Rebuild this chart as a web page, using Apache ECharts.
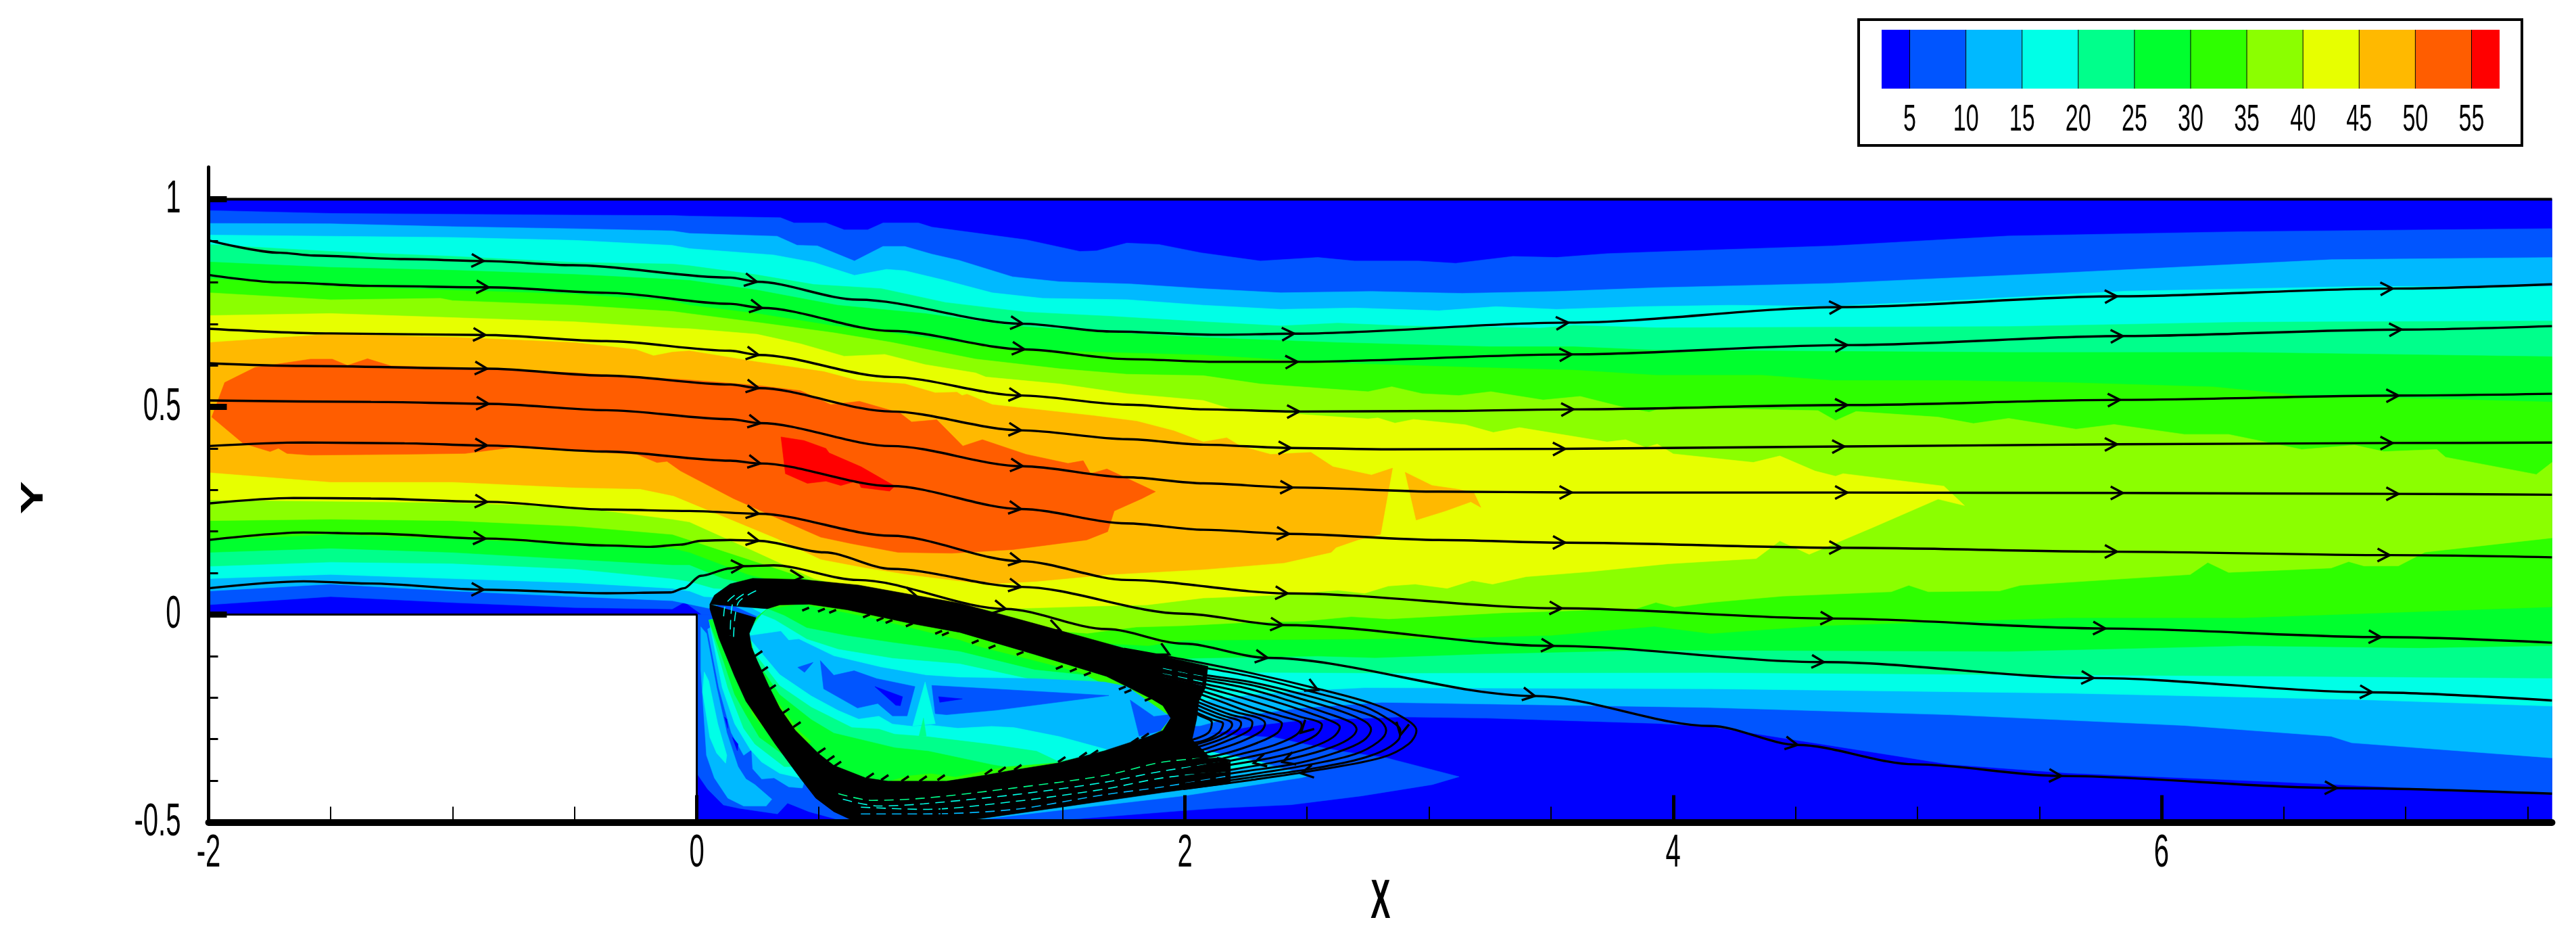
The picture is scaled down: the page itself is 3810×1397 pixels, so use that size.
<!DOCTYPE html>
<html><head><meta charset="utf-8">
<style>html,body{margin:0;padding:0;background:#fff}#c{width:3810px;height:1397px}</style>
<script src="https://cdn.jsdelivr.net/npm/echarts@6/dist/echarts.min.js"></script>
</head><body><div id="c"></div>
<script>
// ---- tick labels and contour levels
const xTickValues=[-2,0,2,4,6];
const yTickValues=[-0.5,0,0.5,1];
const legendTickValues=[5,10,15,20,25,30,35,40,45,50,55];
const legendEdges=[2.5,5,10,15,20,25,30,35,40,45,50,55,57.5];
const bandColors=['#0000ff','#0055ff','#00b9ff','#00ffe7','#00ff8b','#00ff2e','#2eff00','#8bff00','#e7ff00','#ffb900','#ff5d00','#ff0000'];
const xTitle='X',yTitle='Y';

// ---- upper edges of contour levels (x, y)
const u5=[[-2,.973],[-1.5,.966],[-1,.964],[-.5,.962],[-.1,.961],[-.03,.9596],[.343,.9556],[.398,.943],[.529,.943],[.604,.9264],[.7,.9264],[.763,.943],[.908,.943],[.963,.933],[1.156,.9177],[1.349,.9025],[1.569,.8745],[1.638,.8759],[1.762,.8945],[1.893,.8912],[2.065,.8712],[2.309,.8513],[2.544,.8599],[2.695,.8513],[2.957,.8513],[3.109,.8459],[3.343,.8625],[3.522,.8599],[3.729,.8692],[3.932,.8733],[4.653,.8878],[5.374,.9117],[6.335,.9221],[7.6,.9294]];
const u10=[[-2,.942],[-1.5,.941],[-1,.934],[-.5,.929],[-.1,.924],[-.03,.9177],[.329,.911],[.411,.8892],[.494,.8878],[.646,.8513],[.763,.8865],[.852,.8865],[.963,.8679],[1.073,.8532],[1.293,.8134],[1.486,.8014],[1.776,.7961],[2.075,.7848],[2.392,.7748],[2.764,.7781],[3.136,.7735],[3.522,.7781],[3.932,.7871],[4.653,.7975],[5.614,.8234],[6.695,.8546],[7.6,.8598]];
const u15=[[-2,.914],[-1.5,.911],[-1,.908],[-.5,.901],[-.1,.889],[-.03,.8812],[.315,.8659],[.48,.848],[.646,.8167],[.777,.8313],[.852,.828],[1.018,.8047],[1.21,.7748],[1.417,.7615],[1.762,.7582],[2.075,.7449],[2.392,.7349],[2.695,.7382],[3.04,.7316],[3.274,.7415],[3.522,.7349],[3.867,.7415],[4.236,.7449],[4.653,.7424],[5.133,.7559],[5.854,.7788],[6.815,.7902],[7.6,.7902]];
const u20=[[-2,.891],[-1.5,.8745],[-1,.8626],[-.5,.848],[-.1,.844],[-.03,.8399],[.246,.818],[.48,.7947],[.756,.7848],[1.018,.7515],[1.349,.7283],[1.693,.7183],[2.075,.705],[2.392,.695],[2.626,.7017],[2.902,.695],[3.453,.6897],[3.591,.6963],[3.932,.6905],[5.374,.6936],[6.335,.704],[7.6,.7071]];
const u25=[[-2,.849],[-1.5,.836],[-1,.829],[-.5,.819],[-.1,.807],[-.03,.8047],[.246,.7814],[.577,.7449],[.935,.7249],[1.293,.695],[1.624,.6817],[2.075,.667],[2.626,.655],[3.246,.645],[3.591,.645],[3.932,.6365],[5.374,.6313],[6.335,.6313],[7.6,.6209]];
const u30=[[-2,.809],[-1.5,.791],[-1,.781],[-.5,.7715],[-.1,.755],[-.03,.7449],[.246,.7249],[.563,.695],[.797,.6784],[1.073,.6551],[1.349,.6385],[1.624,.6319],[2.075,.625],[2.626,.6053],[3.177,.5953],[3.591,.5887],[3.932,.5763],[4.364,.5763],[4.653,.5638],[5.133,.5638],[5.614,.5586],[6.214,.5482],[6.575,.5274],[7.6,.5118]];
const u35=[[-2,.775],[-1.5,.758],[-1.05,.7615],[-1,.756],[-.5,.745],[-.1,.73],[-.03,.7246],[.273,.7017],[.563,.6784],[.797,.6555],[1.142,.6153],[1.486,.592],[1.762,.5787],[2.075,.5753],[2.309,.5553],[2.75,.5367],[2.847,.5487],[2.971,.532],[3.122,.5275],[3.253,.5367],[3.467,.5168],[3.619,.5254],[3.798,.4989],[3.901,.4876],[3.963,.4989],[4.593,.4911],[4.665,.4672],[4.749,.489],[5.085,.4755],[5.23,.46],[5.374,.4724],[5.65,.4464],[5.806,.4578],[6.094,.4339],[6.275,.4339],[6.575,.3976],[6.791,.408],[6.911,.3924],[7.128,.3976],[7.164,.3789],[7.536,.3374],[7.6,.3664]];

// ---- lower edges of contour levels (x, y)
const l5=[[-2,.0235],[-1.5,.0434],[-1,.0288],[-.5,.0168],[-.1,.0135],[-.05,.0302],[.02,0],[.1,0],[.7,-.1],[1.9,-.29],[2.13,-.2845],[2.31,-.2656],[2.475,-.2547],[2.889,-.2465],[3.234,-.2493],[3.932,-.262],[4.154,-.27],[5.133,-.3606],[5.614,-.3814],[6.455,-.4022],[7.6,-.4333]];
const l10=[[-2,.0567],[-1.5,.0733],[-1,.0567],[-.5,.0434],[-.1,.0334],[-.03,.025],[.05,.015],[.12,.03],[.6,-.1],[1.8,-.27],[2.06,-.268],[2.2,-.2465],[2.475,-.2248],[2.806,-.2113],[4.154,-.2238],[5.133,-.2412],[6.094,-.2671],[6.695,-.2931],[6.779,-.3087],[7.6,-.3451]];
const l15=[[-2,.0866],[-1.5,.0966],[-1,.0866],[-.5,.0767],[-.1,.0633],[-.03,.0567],[.03,.0434],[.15,.04],[.5,-.07],[1.5,-.2],[1.993,-.214],[2.27,-.1925],[2.544,-.1814],[2.737,-.176],[4.154,-.1787],[5.614,-.1892],[6.815,-.2048],[7.6,-.2204]];
const l20=[[-2,.1165],[-1.5,.1265],[-1,.1232],[-.5,.1099],[-.1,.0866],[-.03,.08],[.07,.0633],[.2,.06],[1.2,-.07],[2.255,-.139],[2.82,-.1407],[4.154,-.1396],[5.374,-.1446],[6.335,-.1477],[7.6,-.153]];
const l25=[[-2,.1498],[-1.5,.1598],[-1,.1498],[-.5,.1331],[-.1,.1199],[-.03,.1199],[.11,.0866],[.25,.07],[1,-.06],[1.993,-.1054],[2.544,-.0999],[2.779,-.1037],[3.233,-.0945],[3.922,-.0853],[5.374,-.0885],[6.335,-.075],[7.056,-.08],[7.6,-.075]];
const l30=[[-2,.1797],[-1.5,.193],[-1,.183],[-.5,.1697],[-.1,.1598],[-.03,.1498],[.21,.0966],[.4,.07],[1,-.05],[1.85,-.075],[1.993,-.062],[2.682,-.059],[3.095,-.0565],[3.5,-.05],[3.922,-.0283],[4.154,-.0457],[4.6,-.027],[5.614,-.0075],[6.335,-.0075],[7.6,.0185]];
const l35=[[-2,.2262],[-1.5,.2296],[-1,.2262],[-.5,.2129],[-.1,.193],[-.03,.1797],[.315,.1132],[.45,.0866],[1,-.02],[1.6,-.045],[1.8,-.03],[1.993,-.0267],[2.27,-.0185],[2.489,-.0158],[2.682,-.005],[2.834,-.0104],[3.302,.0043],[3.847,.014],[3.929,.0292],[4.005,.0184],[4.154,.0292],[4.449,.0445],[4.893,.0549],[4.965,.0704],[5.045,.0549],[5.337,.0569],[5.422,.0704],[6.118,.0964],[6.19,.1255],[6.275,.1016],[6.695,.112],[6.767,.1275],[6.83,.117],[6.971,.1172],[7.08,.1504],[7.6,.1847]];

// ---- closed contour outlines (x, y)
const area40=[[-2,.72],[-1.5,.725],[-1,.715],[-.5,.705],[-.1,.69],[-.03,.6884],[.246,.675],[.425,.652],[.604,.622],[.77,.6265],[.935,.602],[1.142,.582],[1.184,.572],[1.487,.5554],[1.762,.532],[2.075,.5155],[2.185,.4955],[2.475,.482],[2.75,.471],[2.79,.4735],[2.86,.461],[2.936,.47],[3.15,.457],[3.263,.4384],[3.37,.4503],[3.729,.4157],[3.805,.421],[3.887,.4025],[3.935,.4105],[4,.387],[4.328,.3664],[4.437,.382],[4.581,.3457],[4.665,.3332],[4.696,.3394],[5.109,.3093],[5.193,.2626],[5.085,.278],[4.821,.2106],[4.557,.1452],[4.437,.1774],[4.34,.1348],[3.98,.1223],[3.66,.1033],[3.398,.0913],[3.26,.0733],[3.177,.0819],[3.074,.0633],[2.943,.0733],[2.833,.0687],[2.736,.0514],[2.626,.0587],[2.378,.0467],[2.075,.04],[1.845,.0234],[1.6,.02],[1.2,.0125],[.9,.03],[.48,.0866],[.246,.15],[-.03,.223],[-.1,.2296],[-.5,.2595],[-1,.2695],[-1.5,.2728],[-2,.2761]];
const area45=[[-2,.655],[-1.5,.675],[-1,.668],[-.5,.655],[-.25,.638],[-.177,.6232],[-.1,.632],[-.03,.635],[.246,.6086],[.52,.585],[.66,.5634],[.853,.5554],[.977,.534],[1.066,.5355],[1.087,.5275],[1.107,.5308],[1.211,.5055],[1.624,.479],[1.803,.4656],[1.955,.4424],[2.075,.4157],[2.171,.4257],[2.227,.4058],[2.351,.3858],[2.516,.3905],[2.606,.356],[2.764,.336],[2.85,.3526],[2.801,.193],[2.709,.18],[2.619,.1618],[2.599,.15],[2.406,.1245],[2.075,.1086],[1.693,.0966],[1.39,.08],[1.183,.0733],[.866,.0966],[.687,.1133],[.508,.1331],[.329,.183],[.137,.2296],[-.095,.286],[-.232,.3027],[-.5,.306],[-1,.3193],[-1.5,.3193],[-2,.3426]];
const island45=[[2.902,.3426],[3.012,.3108],[3.122,.3014],[3.184,.2928],[3.212,.2582],[3.171,.2715],[3.067,.2495],[2.947,.2276]];
const area50=[[-1.987,.4756],[-1.934,.5587],[-1.81,.595],[-1.583,.615],[-1.493,.615],[-1.431,.6],[-1.349,.616],[-1.252,.5986],[-.922,.594],[-.498,.582],[-.03,.565],[.246,.552],[.425,.539],[.549,.5055],[.666,.5135],[.832,.4855],[.88,.4637],[.983,.469],[1.09,.4058],[1.17,.4211],[1.349,.3858],[1.521,.364],[1.583,.3705],[1.613,.3393],[1.68,.3506],[1.879,.296],[1.824,.2795],[1.71,.2495],[1.683,.1997],[1.597,.1797],[1.294,.1565],[1.045,.1478],[.825,.1498],[.632,.171],[.508,.1864],[.315,.2362],[.15,.2795],[-.03,.3346],[-.067,.346],[-.122,.369],[-.163,.366],[-.246,.386],[-.756,.4025],[-.949,.388],[-1.197,.386],[-1.583,.384],[-1.679,.388],[-1.714,.4005],[-1.748,.3925],[-1.859,.4125]];
const area55=[[.345,.4277],[.439,.419],[.529,.4],[.542,.3892],[.673,.3559],[.811,.3094],[.79,.2974],[.673,.306],[.66,.3226],[.59,.3107],[.529,.3213],[.453,.316],[.363,.3393]];

// ---- wake below the recirculation tail
const wake5=[[2.172,-.29],[2.365,-.2954],[2.489,-.3117],[2.655,-.3307],[2.82,-.3443],[3.123,-.3904],[3.013,-.4094],[2.723,-.4367],[2.434,-.4579],[2.131,-.4664],[1.993,-.472],[1.385,-.5],[.9,-.5],[.9,-.3],[2,-.28]];
const wake10=[[2.514,-.3877],[2.475,-.393],[2.234,-.4148],[1.993,-.4366],[1.063,-.5],[.85,-.5],[.9,-.35],[1.9,-.3],[1.993,-.32],[2.2,-.34]];
const wake15=[[2.35,-.36],[2.1,-.33],[1.9,-.31],[1.2,-.34],[.8,-.4],[1,-.47],[1.6,-.42],[2,-.39]];

// ---- jet along the step face
const jet5=[[0,0],[0,-.3823],[.0443,-.4203],[.1089,-.4584],[.1735,-.4665],[.3305,-.48],[.372,-.454],[.4598,-.4746],[.6168,-.5],[.925,-.5],[.466,-.2573],[.121,0]];
const jetLobe10=[[.0166,-.0295],[.0166,-.1326],[.0397,-.3389],[.072,-.3932],[.1274,-.4421],[.192,-.4611],[.2843,-.4611],[.3074,-.4448],[.2382,-.4095],[.2012,-.3959],[.1689,-.3661],[.1228,-.2846],[.0812,-.176],[.0397,-.0457]];
const jetLobe15=[[.0304,-.138],[.024,-.1869],[.0535,-.2955],[.0812,-.3335],[.1181,-.3579],[.1228,-.3389],[.0858,-.2629],[.0489,-.1598]];
const jet10=[[.0443,-.0349],[.0904,-.176],[.1412,-.2846],[.192,-.3389],[.2243,-.3253],[.229,-.3715],[.2659,-.3959],[.3167,-.3932],[.3767,-.4149],[.4321,-.4176],[.5,-.3],[.15,0]];
const jet15=[[.05,-.0132],[.1043,-.176],[.1551,-.2629],[.2197,-.3253],[.2659,-.3552],[.3398,-.3823],[.4229,-.3932],[.5,-.3],[.15,0]];
const jet20=[[.0535,-.024],[.127,-.176],[.192,-.2738],[.2382,-.3118],[.3582,-.3661],[.4044,-.3661],[.45,-.3],[.15,0]];
const jet25=[[.0489,-.0132],[.0627,-.0349],[.1089,-.1109],[.1551,-.1923],[.2012,-.2412],[.2566,-.2955],[.3582,-.3389],[.42,-.25],[.15,0]];
const jet30=[[.2105,-.214],[.2797,-.2683],[.2751,-.2738],[.229,-.2412]];
const jetSpeckA=[[.1135,-.2465],[.1228,-.2521],[.1274,-.2738]];
const jetSpeckB=[[.1458,-.2955],[.1689,-.3118],[.1662,-.328]];

// ---- inside of the recirculation bubble
const bubbleHole=[[.289,.014],[.3398,.0232],[.4598,.0248],[.6168,.0113],[.8753,-.0213],[1.078,-.043],[1.3842,-.096],[1.6786,-.1488],[1.7617,-.1732],[1.8633,-.2031],[1.9094,-.2194],[1.941,-.2493],[1.9094,-.2791],[1.854,-.2927],[1.6694,-.328],[1.4755,-.3578],[1.3,-.3741],[1.1708,-.3877],[1.023,-.4012],[.783,-.4012],[.6906,-.3931],[.5613,-.3632],[.4967,-.3335],[.4044,-.2792],[.3398,-.2249],[.2936,-.1706],[.2474,-.1109],[.2243,-.0783],[.2151,-.0457],[.2428,-.0077]];
const bubbleOuter=[[.0535,.0248],[.072,.0465],[.1366,.0737],[.229,.0873],[.432,.0845],[.663,.071],[.894,.0465],[1.078,.0275],[1.3842,-.0216],[1.7746,-.085],[1.909,-.1],[2.094,-.1244],[2.084,-.176],[2.057,-.2085],[2.0475,-.252],[2.029,-.3008],[2.094,-.3388],[2.186,-.3497],[2.186,-.4067],[1.909,-.4284],[1.494,-.4637],[1.06,-.5],[.6537,-.5],[.5614,-.4746],[.4875,-.442],[.4229,-.3932],[.3213,-.3118],[.2012,-.2086],[.155,-.1489],[.0904,-.0566],[.0535,.014]];
const in25=[[.2428,-.0077],[.289,.014],[.432,.0248],[.709,-.0077],[.8937,-.0349],[1.078,-.062],[1.1545,-.0774],[1.3842,-.1115],[1.5679,-.1395],[1.95,-.25],[1.6,-.345],[1.263,-.366],[1.06,-.3904],[.9584,-.3822],[.866,-.3877],[.783,-.4012],[.6,-.39],[.5613,-.3632],[.4967,-.34],[.2936,-.18],[.2151,-.05]];
const in30=[[.4044,-.2738],[.469,-.3063],[.4505,-.31]];
const in20=[[.2151,-.03],[.289,.014],[.358,-.0023],[.4505,-.0322],[.6168,-.0512],[.8014,-.0675],[1.078,-.0892],[1.3842,-.1333],[1.5909,-.1457],[1.95,-.25],[1.6,-.34],[1.48,-.356],[1.263,-.366],[1.2077,-.3605],[.9492,-.328],[.8106,-.3198],[.5613,-.2845],[.469,-.252],[.3398,-.1923],[.2474,-.1136],[.2151,-.05]];
const in15=[[.2151,-.04],[.2659,0],[.3213,-.0132],[.4505,-.0593],[.5798,-.0838],[.8014,-.1055],[1.078,-.119],[1.3842,-.1581],[1.6139,-.1705],[1.95,-.25],[1.7,-.33],[1.48,-.3524],[1.392,-.328],[1.2077,-.3117],[.94,-.2927],[.8106,-.2872],[.746,-.2748],[.6352,-.271],[.469,-.2222],[.3398,-.1706],[.2336,-.0892]];
const in10=[[.2151,-.0512],[.3444,-.0403],[.3767,-.062],[.4182,-.0593],[.5614,-.1],[.7553,-.1272],[.94,-.1462],[1.078,-.1516],[1.392,-.1542],[1.6694,-.1624],[1.7617,-.1732],[1.95,-.25],[1.854,-.3],[1.6879,-.3252],[1.4847,-.2927],[1.3,-.271],[1.2077,-.2682],[1.0692,-.2726],[.9584,-.2655],[.8845,-.2682],[.8014,-.2628],[.746,-.2438],[.6629,-.2509],[.5798,-.2302],[.469,-.195],[.3398,-.1435],[.2197,-.0593]];
const in5a=[[.506,-.1109],[.5614,-.1462],[.6445,-.1353],[.7368,-.1543],[.8937,-.1733],[.8615,-.2439],[.8014,-.2439],[.7414,-.214],[.6583,-.2249],[.5198,-.1788]];
const in5b=[[.963,-.1706],[1.6879,-.195],[1.226,-.2302],[1.023,-.2411],[.9768,-.2384]];
const in5c=[[1.7756,-.2058],[1.8725,-.2454],[1.95,-.24],[1.9,-.28],[1.8125,-.2927]];
const in5d=[[.4136,-.1272],[.4764,-.1152],[.4413,-.1391]];
const in0a=[[.7295,-.1733],[.843,-.1978],[.8337,-.2195],[.8153,-.2184]];
const in0b=[[.9907,-.1977],[1.0877,-.2031],[.9953,-.2112]];
const spikeOuter=[[.8845,-.2682],[.9353,-.1624],[.977,-.2628]];
const spikeInner=[[.9104,-.2927],[.9288,-.2492],[.9399,-.2927]];
const stepBlock=[[-2,0],[0,0],[0,-.5],[-2,-.5]];
const domain=[[-2,1],[7.6,1],[7.6,-.5],[-2,-.5]];

// ---- streamlines through the main flow
const s1=[[-2,.9011],[-1.707,.8712],[-1.569,.8646],[-1.197,.8559],[-.873,.8513],[-.508,.8413],[.137,.8114],[.246,.8014],[.66,.7582],[1.335,.7003],[1.693,.6817],[2.131,.6737],[2.447,.6764],[3.57,.703],[4.689,.7403],[5.818,.7663],[6.947,.785],[7.6,.7954]];
const s2=[[-2,.818],[-1.707,.8],[-1.335,.7914],[-.853,.788],[-.37,.7748],[.137,.7482],[.267,.7382],[.797,.683],[1.342,.6385],[1.762,.6152],[2.131,.6086],[2.461,.6086],[3.584,.6265],[4.713,.6489],[5.842,.6707],[6.983,.6863],[7.6,.6946]];
const s3=[[-2,.6883],[-1.5,.677],[-.866,.6731],[-.37,.6584],[.137,.6352],[.253,.6252],[.797,.572],[1.328,.5275],[1.762,.5055],[2.075,.4942],[2.468,.4889],[3.04,.4902],[3.591,.4942],[4.713,.5045],[5.83,.517],[6.971,.5274],[7.6,.5316]];
const s4=[[-2,.6052],[-1.611,.5986],[-.859,.592],[-.37,.5753],[.137,.554],[.253,.5454],[.797,.4889],[1.328,.4437],[1.762,.4224],[2.075,.4091],[2.433,.4011],[2.84,.3978],[3.557,.3991],[4.701,.4048],[5.818,.41],[6.947,.4131],[7.6,.4142]];
const s5=[[-2,.5155],[-1.335,.5121],[-.853,.5075],[-.37,.4922],[.137,.4703],[.26,.4609],[.797,.4058],[1.335,.3572],[1.762,.3306],[2.075,.316],[2.44,.306],[3.04,.296],[3.584,.294],[4.713,.2938],[5.842,.2927],[6.971,.2906],[7.6,.2885]];
const s6=[[-2,.4058],[-1.611,.4144],[-1.197,.4124],[-.859,.4071],[-.37,.3925],[.137,.3705],[.26,.3639],[.797,.3094],[1.328,.2542],[1.762,.2196],[2.075,.2043],[2.426,.1943],[3.04,.1797],[3.557,.1731],[4.689,.1608],[5.818,.1514],[6.935,.1431],[7.6,.1379]];
const s7=[[-2,.2675],[-1.652,.2808],[-1.335,.2794],[-.859,.2714],[-.37,.2528],[-.03,.2495],[.253,.2428],[.797,.1897],[1.328,.1285],[1.762,.0833],[2.42,.051],[3.543,.015],[4.653,-.0096],[5.77,-.0335],[6.899,-.0542],[7.6,-.0677]];
const s8=[[-2,.1797],[-1.611,.1977],[-1.335,.195],[-.866,.183],[-.37,.1664],[-.191,.1631],[-.067,.1684],[.016,.1777],[.137,.1797],[.253,.1777],[.522,.1498],[.797,.11],[1.328,.0667],[1.993,.0021],[2.4,-.0251],[3.509,-.0755],[4.617,-.1145],[5.722,-.1529],[6.863,-.1872],[7.6,-.2069]];
const s9=[[-2,.0633],[-1.611,.08],[-1.335,.0747],[-.873,.06],[-.37,.0514],[-.108,.0534],[-.053,.0633],[.016,.0933],[.137,.1112],[.19,.1166],[.315,.1186],[.66,.0833],[1.266,.0135],[1.68,-.035],[1.993,-.0701],[2.338,-.1043],[3.433,-.196],[4.154,-.2683],[4.509,-.3139],[4.989,-.3606],[5.59,-.3887],[6.719,-.4177],[7.6,-.4313]];
const a1=[-.873,.246,1.335,2.447,3.57,4.689,5.818,6.947];
const a2=[-.853,.267,1.342,2.461,3.584,4.713,5.842,6.983];
const a3=[-.866,.253,1.328,2.468,3.591,4.713,5.83,6.971];
const a4=[-.859,.253,1.328,2.433,3.557,4.701,5.818,6.947];
const a5=[-.853,.26,1.335,2.44,3.584,4.713,5.842,6.971];
const a6=[-.859,.26,1.328,2.426,3.557,4.689,5.818,6.935];
const a7=[-.859,.253,1.328,2.42,3.543,4.653,5.77,6.899];
const a8=[-.866,.253,1.328,2.4,3.509,4.617,5.722,6.863];
const a9=[-.873,.19,1.266,2.338,3.433,4.509,5.59,6.719];

// ---- recirculation streamlines in the tail
const loopA=[[1.75,-.082],[1.993,-.108],[2.269,-.1407],[2.544,-.1787],[2.765,-.214],[2.889,-.2465],[2.948,-.2791],[2.916,-.3117],[2.806,-.3443],[2.544,-.3741],[2.269,-.3985],[1.993,-.4203]];
const loopB=[[1.75,-.09],[1.993,-.119],[2.269,-.1488],[2.544,-.1895],[2.737,-.2221],[2.847,-.2574],[2.882,-.2791],[2.875,-.3008],[2.765,-.3388],[2.544,-.3687],[2.269,-.392],[1.993,-.4148]];
const loopC=[[1.75,-.1],[1.993,-.1369],[2.269,-.1624],[2.517,-.1977],[2.682,-.2275],[2.792,-.252],[2.824,-.2791],[2.792,-.3063],[2.696,-.3361],[2.517,-.3605],[2.269,-.385],[1.993,-.4083]];
const loopD=[[1.75,-.11],[1.993,-.1434],[2.269,-.1695],[2.475,-.2031],[2.641,-.233],[2.737,-.2574],[2.762,-.2764],[2.73,-.3036],[2.627,-.3307],[2.462,-.3578],[2.241,-.3779],[1.993,-.3996]];
const loopE=[[1.75,-.12],[1.993,-.1488],[2.241,-.176],[2.434,-.2086],[2.586,-.2384],[2.682,-.2601],[2.703,-.2764],[2.668,-.3008],[2.572,-.3253],[2.406,-.3508],[2.214,-.3714],[1.993,-.3904]];
const loopF=[[1.75,-.13],[1.993,-.157],[2.214,-.1841],[2.393,-.214],[2.53,-.2411],[2.613,-.2601],[2.634,-.271],[2.606,-.2954],[2.517,-.3198],[2.351,-.3454],[2.172,-.3632],[1.993,-.3823]];
const loopG=[[1.75,-.135],[1.993,-.1624],[2.186,-.1923],[2.351,-.2221],[2.475,-.2465],[2.544,-.2574],[2.561,-.2656],[2.537,-.29],[2.448,-.3144],[2.296,-.3388],[2.131,-.3578],[1.993,-.3725]];
const loopH=[[1.75,-.14],[1.993,-.1705],[2.158,-.2004],[2.296,-.2275],[2.406,-.2465],[2.468,-.2574],[2.478,-.2683],[2.455,-.29],[2.365,-.3144],[2.227,-.3361],[2.089,-.3551],[1.993,-.3649]];
const loopI=[[1.75,-.145],[1.993,-.1787],[2.131,-.2058],[2.255,-.233],[2.351,-.2493],[2.397,-.2628],[2.379,-.2845],[2.296,-.309],[2.172,-.3334],[2.062,-.347],[1.993,-.3551]];
const loopJ=[[1.75,-.15],[1.993,-.1868],[2.103,-.214],[2.214,-.2357],[2.303,-.2493],[2.328,-.2628],[2.31,-.2818],[2.227,-.3063],[2.117,-.328],[1.993,-.3454]];
const loopK=[[1.993,-.195],[2.089,-.2194],[2.186,-.2411],[2.262,-.252],[2.276,-.2601],[2.262,-.2791],[2.186,-.3008],[2.076,-.3253],[1.993,-.3361]];
const loopL=[[1.993,-.2031],[2.076,-.2248],[2.158,-.2438],[2.22,-.2547],[2.23,-.2628],[2.214,-.2791],[2.145,-.3008],[2.048,-.3198],[1.993,-.328]];
const loopM=[[1.993,-.2096],[2.062,-.2303],[2.131,-.2465],[2.186,-.2574],[2.193,-.2656],[2.172,-.2818],[2.11,-.3008],[2.034,-.3144],[1.993,-.3198]];
const loopN=[[1.993,-.2167],[2.048,-.2357],[2.11,-.252],[2.156,-.2628],[2.138,-.2845],[2.076,-.3036],[1.993,-.3117]];
const loopO=[[1.993,-.2221],[2.062,-.2438],[2.11,-.2601],[2.096,-.2845],[2.034,-.3008],[1.993,-.3052]];
const loopArrows=[[.431,.09,.5,.087],[.902,.0435,1,.03],[1.488,-.0371,1.6,-.06],[1.9354,-.096,2,-.115],[2.544,-.1814,2.65,-.21],[2.882,-.29,2.875,-.31],[2.475,-.3823,2.4,-.39],[2.282,-.3578,2.2,-.37],[2.4,-.3551,2.32,-.37],[2.475,-.2845,2.43,-.31]];
const edgeHairsUpper=[[.4598,.0167],[.5244,.014],[.5706,.0113],[.709,.0004],[.7645,-.0077],[.8014,-.0132],[.8845,-.0213],[1.0046,-.0392],[1.0323,-.043],[1.1545,-.0619],[1.2234,-.0743],[1.3383,-.0898],[1.499,-.124],[1.5564,-.1302],[1.6139,-.1395],[1.757,-.1732],[1.78,-.1814],[1.863,-.2004]];
const edgeHairsLower=[[1.48,-.3551],[1.5678,-.3442],[1.614,-.3388],[1.78,-.309],[1.8217,-.2981],[1.3,-.374],[1.2354,-.3795],[1.18,-.385],[.986,-.3985],[.912,-.4012],[.8384,-.4012],[.755,-.3985],[.695,-.3942],[.4967,-.3334],[.5336,-.3524],[.5613,-.366],[.2382,-.1],[.2613,-.138],[.2936,-.1815],[.349,-.2385],[.3952,-.271]];

// ---- coloured gaps seen between the packed streamlines
const gapLow1=[[.5798,-.4311],[.7183,-.4474],[.9307,-.442],[1.3,-.4175],[1.6694,-.3877],[1.9094,-.3551],[2.1768,-.3416]];
const gapLow2=[[.5983,-.4447],[.746,-.461],[.9307,-.4555],[1.3,-.4338],[1.6694,-.404],[1.9094,-.3768],[2.223,-.3497]];
const gapLow3=[[.6721,-.4637],[.9307,-.4691],[1.3,-.4501],[1.6694,-.4202],[1.9094,-.3931],[2.186,-.3769]];
const gapLow4=[[.6721,-.48],[.9307,-.48],[1.3,-.4691],[1.6694,-.4338],[1.9094,-.4148],[2.186,-.3877]];
const gapTop1=[[1.909,-.1298],[2.09,-.15]];
const gapTop2=[[1.909,-.1407],[2.08,-.163]];
const gapTop3=[[1.909,-.1515],[2.07,-.172]];
const gapLeft1=[[.155,.0465],[.118,.0248],[.109,-.0159]];
const gapLeft2=[[.192,.0493],[.146,.0248],[.137,-.0512]];
const gapLeft3=[[.243,.0574],[.169,.0275],[.1505,-.062]];

// ---- assembling
const C=bandColors;
const band=(u,l)=>u.concat(l.slice().reverse());
const fills=[
 [domain,C[0]],[band(u5,l5),C[1]],[band(u10,l10),C[2]],[band(u15,l15),C[3]],[band(u20,l20),C[4]],[band(u25,l25),C[5]],[band(u30,l30),C[6]],[band(u35,l35),C[7]],
 [area40,C[8]],[area45,C[9]],[island45,C[9]],[area50,C[10]],[area55,C[11]],
 [wake5,C[1]],[wake10,C[2]],[wake15,C[3]],
 [jet5,C[1]],[jetLobe10,C[2]],[jetLobe15,C[3]],[jet10,C[2]],[jetSpeckA,C[0]],[jetSpeckB,C[0]],[jet15,C[3]],[jet20,C[4]],[jet25,C[5]],[jet30,C[6]],
 [bubbleHole,C[6]],[in25,C[5]],[in30,C[6]],[in20,C[4]],[in15,C[3]],[in10,C[2]],[in5a,C[1]],[in5b,C[1]],[in5c,C[1]],[in5d,C[1]],[in0a,C[0]],[in0b,C[0]],[spikeOuter,C[3]],[spikeInner,C[4]],
 [bubbleOuter.concat([bubbleOuter[0]],[bubbleHole[bubbleHole.length-1]],bubbleHole.slice().reverse()),'#000'],
 [stepBlock,'#fff']
];
const streams=[s1,s2,s3,s4,s5,s6,s7,s8,s9];
const streamArrows=[a1,a2,a3,a4,a5,a6,a7,a8,a9];
const loops=[loopA,loopB,loopC,loopD,loopE,loopF,loopG,loopH,loopI,loopJ,loopK,loopL,loopM,loopN,loopO];
const gaps=[[gapLow1,C[4]],[gapLow2,C[3]],[gapLow3,C[3]],[gapLow4,C[2]],[gapTop1,C[3]],[gapTop2,C[3]],[gapTop3,C[2]],[gapLeft1,C[3]],[gapLeft2,C[3]],[gapLeft3,C[3]]];
function onLine(line,x){
  for(let i=1;i<line.length;i++){
    if(x<line[i][0]){
      const p=line[i-1],q=line[i],t=(x-p[0])/(q[0]-p[0]);
      return [x,p[1]+t*(q[1]-p[1]),q[0],q[1]];
    }
  }
  return line[line.length-1];
}
const arrows=[];
streams.forEach((l,i)=>streamArrows[i].forEach(x=>arrows.push(onLine(l,x))));
loopArrows.forEach(a=>arrows.push(a));
const hairs=edgeHairsUpper.map(p=>[p[0],p[1],p[0]-.028,p[1]-.007]).concat(edgeHairsLower.map(p=>[p[0],p[1],p[0]+.03,p[1]+.012]));

const lineDefaults={type:'line',xAxisIndex:0,yAxisIndex:0,showSymbol:false,silent:true,animation:false};
const series=[{
  type:'custom',xAxisIndex:0,yAxisIndex:0,z:1,silent:true,animation:false,clip:true,
  data:fills.map((f,i)=>[f[0][0][0],f[0][0][1],i]),encode:{x:0,y:1},
  renderItem(params,api){
    const f=fills[api.value(2)];
    return {type:'polygon',shape:{points:f[0].map(p=>api.coord(p))},style:{fill:f[1],stroke:f[1],lineWidth:.6}};
  }
}];
gaps.forEach(g=>series.push(Object.assign({},lineDefaults,{z:2,data:g[0],smooth:.3,lineStyle:{color:g[1],width:1.6,type:[14,9]}})));
loops.forEach(l=>series.push(Object.assign({},lineDefaults,{z:3,data:l,smooth:.35,lineStyle:{color:'#000',width:3}})));
streams.forEach(l=>series.push(Object.assign({},lineDefaults,{z:4,data:l,smooth:.3,smoothMonotone:'x',lineStyle:{color:'#000',width:3.4}})));
series.push(Object.assign({},lineDefaults,{z:6,data:[[-2,1],[7.6,1]],lineStyle:{color:'#000',width:4}}));
series.push(Object.assign({},lineDefaults,{z:6,data:[[-2,0],[0,0],[0,-.5]],lineStyle:{color:'#000',width:3}}));
series.push({
  type:'custom',xAxisIndex:0,yAxisIndex:0,z:5,silent:true,animation:false,clip:true,
  data:arrows,encode:{x:0,y:1},
  renderItem(params,api){
    const p=api.coord([api.value(0),api.value(1)]),q=api.coord([api.value(2),api.value(3)]);
    const dx=q[0]-p[0],dy=q[1]-p[1],n=Math.hypot(dx,dy)||1,ux=dx/n,uy=dy/n;
    const B=18,W=9.5;
    return {type:'polyline',shape:{points:[[p[0]-B*ux-W*uy,p[1]-B*uy+W*ux],[p[0],p[1]],[p[0]-B*ux+W*uy,p[1]-B*uy-W*ux]]},style:{fill:null,stroke:'#000',lineWidth:3.4}};
  }
});
series.push({
  type:'custom',xAxisIndex:0,yAxisIndex:0,z:3,silent:true,animation:false,
  data:hairs,encode:{x:0,y:1},
  renderItem(params,api){
    const p=api.coord([api.value(0),api.value(1)]),q=api.coord([api.value(2),api.value(3)]);
    return {type:'line',shape:{x1:p[0],y1:p[1],x2:q[0],y2:q[1]},style:{stroke:'#000',lineWidth:3.5}};
  }
});
// colour key
const keyRows=bandColors.map((c,i)=>[legendEdges[i],legendEdges[i+1],i]);
series.push({
  type:'custom',xAxisIndex:1,yAxisIndex:1,silent:true,animation:false,
  data:keyRows,encode:{x:[0,1]},
  renderItem(params,api){
    const a=api.coord([api.value(0),0]),b=api.coord([api.value(1),1]),i=api.value(2);
    const rect={type:'rect',shape:{x:a[0],y:b[1],width:b[0]-a[0],height:a[1]-b[1]},style:{fill:bandColors[i]}};
    const kids=[rect];
    if(i>0)kids.push({type:'line',shape:{x1:a[0],y1:b[1],x2:a[0],y2:a[1]},style:{stroke:'#000',lineWidth:1},z2:5});
    return {type:'group',children:kids};
  }
});
// condensed tick labels and axis titles, placed through the axis scales
const labelFont='"Liberation Sans",Arial,sans-serif';
function textItem(text,p,o){
  return {type:'text',x:p[0]+(o.dx||0),y:p[1]+(o.dy||0),scaleX:o.sx||1,rotation:o.rot||0,
    style:{text,fill:'#000',fontFamily:labelFont,fontSize:o.size,fontWeight:o.weight||'normal',
      align:o.align||'center',textAlign:o.align||'center',verticalAlign:'middle',textVerticalAlign:'middle'}};
}
const mainLabels=[
  ...xTickValues.map(v=>[v,-.5,String(v),{dy:46,size:69,sx:.58}]),
  ...yTickValues.map(v=>[-2,v,String(v),{dx:-41,size:69,sx:.58,align:'right'}]),
  [2.801,-.5,xTitle,{dy:119.5,size:81,sx:.54,weight:'bold'}],
  [-2,.2816,yTitle,{dx:-258,size:46,sx:1.6,weight:'bold',rot:Math.PI/2}]
];
series.push({
  type:'custom',xAxisIndex:0,yAxisIndex:0,z:12,silent:true,animation:false,clip:false,
  data:mainLabels.map((m,i)=>[m[0],m[1],i]),encode:{x:0,y:1},
  renderItem(params,api){
    const m=mainLabels[api.value(2)];
    return textItem(m[2],api.coord([m[0],m[1]]),m[3]);
  }
});
series.push({
  type:'custom',xAxisIndex:1,yAxisIndex:1,z:12,silent:true,animation:false,clip:false,
  data:legendTickValues.map(v=>[v,0]),encode:{x:0,y:1},
  renderItem(params,api){
    const v=api.value(0);
    return textItem(String(v),api.coord([v,0]),{dy:47,size:55,sx:.62});
  }
});

const option={
  animation:false,backgroundColor:'#fff',
  grid:[{left:308.5,top:247,width:3466,height:968.5},{left:2783,top:44,width:914,height:87}],
  graphic:[{type:'rect',z:-1,shape:{x:2749,y:29,width:981,height:186},style:{fill:'#fff',stroke:'#000',lineWidth:4}}],
  xAxis:[{
    type:'value',gridIndex:0,min:-2,max:7.6,interval:2,z:10,splitLine:{show:false},
    axisLine:{show:true,onZero:false,lineStyle:{color:'#000',width:10}},
    axisTick:{show:true,inside:true,length:40,lineStyle:{color:'#000',width:5},customValues:xTickValues},
    minorTick:{show:true,splitNumber:4,length:23,lineStyle:{color:'#000',width:2}},
    minorSplitLine:{show:false},
    axisLabel:{show:false}
  },{
    type:'value',gridIndex:1,min:2.5,max:57.5,splitLine:{show:false},
    axisLine:{show:false},axisTick:{show:false},axisLabel:{show:false}
  }],
  yAxis:[{
    type:'value',gridIndex:0,min:-.5,max:1.0775,interval:.5,z:10,splitLine:{show:false},
    axisLine:{show:true,onZero:false,lineStyle:{color:'#000',width:5}},
    axisTick:{show:true,inside:true,length:27,lineStyle:{color:'#000',width:9},customValues:yTickValues},
    minorTick:{show:true,splitNumber:5,length:14,lineStyle:{color:'#000',width:3}},
    axisLabel:{show:false}
  },{
    type:'value',gridIndex:1,min:0,max:1,show:false
  }],
  series
};
echarts.init(document.getElementById('c'),null,{renderer:'canvas'}).setOption(option);
</script></body></html>
